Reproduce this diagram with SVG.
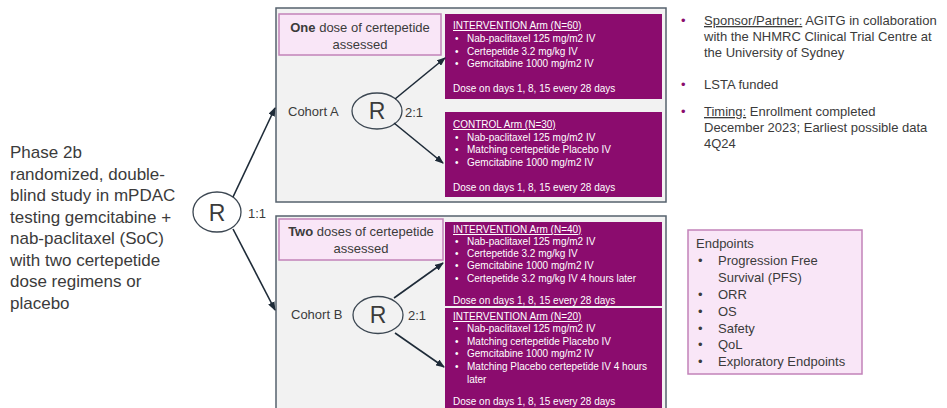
<svg xmlns="http://www.w3.org/2000/svg" width="947" height="408" viewBox="0 0 947 408">
<defs>
<marker id="ah" markerUnits="userSpaceOnUse" markerWidth="9" markerHeight="7" refX="8" refY="3.5" orient="auto">
<path d="M0,0 L9,3.5 L0,7 z" fill="#1e2b38"/>
</marker>
<style>
text{font-family:"Liberation Sans",Arial,sans-serif;fill:#3b3b3b}
.cohort{fill:#f2f2f2;stroke:#56626d;stroke-width:1.5}
.pink{fill:#f9e6f7;stroke:#c283b9;stroke-width:1.5}
.arm{fill:#8b0c6e}
.circ{fill:none;stroke:#3c4752;stroke-width:1.3}
.w{fill:#ffffff;font-size:10px}
.h{text-decoration:underline}
.con{stroke:#1e2b38;stroke-width:1.6;fill:none;marker-end:url(#ah)}
.r{font-size:23px;text-anchor:middle}
.lbl{font-size:13px}
.big{font-size:17px}
.rt{font-size:13px}
.bul{fill:#8b0c6e}
</style>
</defs>
<rect width="947" height="408" fill="#ffffff"/>

<g id="intro">
<text class="big" x="10" y="158">Phase 2b</text>
<text class="big" x="10" y="180">randomized, double-</text>
<text class="big" x="10" y="201">blind study in mPDAC</text>
<text class="big" x="10" y="223">testing gemcitabine +</text>
<text class="big" x="10" y="244">nab-paclitaxel (SoC)</text>
<text class="big" x="10" y="266">with two certepetide</text>
<text class="big" x="10" y="287">dose regimens or</text>
<text class="big" x="10" y="309">placebo</text>
</g>

<g id="rand-main">
<ellipse class="circ" cx="217" cy="212" rx="24" ry="20"/>
<text class="r" x="217" y="221">R</text>
<text class="lbl" x="248" y="218">1:1</text>
</g>

<g id="cohortA">
<rect class="cohort" x="276" y="8" width="390" height="194"/>
<text class="lbl" x="288" y="116">Cohort A</text>
<ellipse class="circ" cx="377" cy="111" rx="25" ry="18"/>
<text class="r" x="377" y="119">R</text>
<text class="lbl" x="405" y="117">2:1</text>
</g>

<g id="labelA">
<rect class="pink" x="279" y="14" width="162" height="41"/>
<text class="lbl" x="360" y="32" text-anchor="middle"><tspan font-weight="bold">One</tspan> dose of certepetide</text>
<text class="lbl" x="360" y="49" text-anchor="middle">assessed</text>
</g>

<g id="armA1">
<rect class="arm" x="445" y="14" width="217" height="85"/>
<text class="w h" x="453" y="29">INTERVENTION Arm (N=60)</text>
<text class="w" x="455" y="42">•</text><text class="w" x="467" y="42">Nab-paclitaxel 125 mg/m2 IV</text>
<text class="w" x="455" y="55">•</text><text class="w" x="467" y="55">Certepetide 3.2 mg/kg IV</text>
<text class="w" x="455" y="67">•</text><text class="w" x="467" y="67">Gemcitabine 1000 mg/m2 IV</text>
<text class="w" x="453" y="92">Dose on days 1, 8, 15 every 28 days</text>
</g>

<g id="armA2">
<rect class="arm" x="445" y="112" width="217" height="85"/>
<text class="w h" x="453" y="128">CONTROL Arm (N=30)</text>
<text class="w" x="455" y="141">•</text><text class="w" x="467" y="141">Nab-paclitaxel 125 mg/m2 IV</text>
<text class="w" x="455" y="153">•</text><text class="w" x="467" y="153">Matching certepetide Placebo IV</text>
<text class="w" x="455" y="166">•</text><text class="w" x="467" y="166">Gemcitabine 1000 mg/m2 IV</text>
<text class="w" x="453" y="191">Dose on days 1, 8, 15 every 28 days</text>
</g>

<g id="cohortB">
<rect class="cohort" x="276" y="216" width="390" height="200"/>
<text class="lbl" x="291" y="319">Cohort B</text>
<ellipse class="circ" cx="378" cy="315" rx="25" ry="18.5"/>
<text class="r" x="378" y="323">R</text>
<text class="lbl" x="408" y="320">2:1</text>
</g>

<g id="labelB">
<rect class="pink" x="279" y="219" width="164" height="41"/>
<text class="lbl" x="361" y="236" text-anchor="middle"><tspan font-weight="bold">Two</tspan> doses of certepetide</text>
<text class="lbl" x="361" y="253" text-anchor="middle">assessed</text>
</g>

<g id="armB1">
<rect class="arm" x="445" y="222" width="217" height="84"/>
<text class="w h" x="453" y="233">INTERVENTION Arm (N=40)</text>
<text class="w" x="455" y="245">•</text><text class="w" x="467" y="245">Nab-paclitaxel 125 mg/m2 IV</text>
<text class="w" x="455" y="257">•</text><text class="w" x="467" y="257">Certepetide 3.2 mg/kg IV</text>
<text class="w" x="455" y="269">•</text><text class="w" x="467" y="269">Gemcitabine 1000 mg/m2 IV</text>
<text class="w" x="455" y="282">•</text><text class="w" x="467" y="282">Certepetide 3.2 mg/kg IV 4 hours later</text>
<text class="w" x="453" y="304">Dose on days 1, 8, 15 every 28 days</text>
</g>

<g id="armB2">
<rect class="arm" x="445" y="308" width="217" height="110"/>
<text class="w h" x="453" y="320">INTERVENTION Arm (N=20)</text>
<text class="w" x="455" y="332">•</text><text class="w" x="467" y="332">Nab-paclitaxel 125 mg/m2 IV</text>
<text class="w" x="455" y="345">•</text><text class="w" x="467" y="345">Matching certepetide Placebo IV</text>
<text class="w" x="455" y="357">•</text><text class="w" x="467" y="357">Gemcitabine 1000 mg/m2 IV</text>
<text class="w" x="455" y="370">•</text><text class="w" x="467" y="370">Matching Placebo certepetide IV 4 hours</text>
<text class="w" x="467" y="383">later</text>
<text class="w" x="453" y="405">Dose on days 1, 8, 15 every 28 days</text>
</g>

<g id="connectors">
<line class="con" x1="233" y1="197" x2="275" y2="108"/>
<line class="con" x1="233" y1="229" x2="275" y2="310"/>
<line class="con" x1="395" y1="99" x2="445" y2="58"/>
<line class="con" x1="394" y1="123" x2="443" y2="163"/>
<line class="con" x1="394" y1="298" x2="443" y2="263"/>
<line class="con" x1="395" y1="333" x2="444" y2="367"/>
</g>

<g id="info">
<text class="rt bul" x="681" y="25">•</text>
<text class="rt" x="704" y="25"><tspan class="h">Sponsor/Partner:</tspan>  AGITG in collaboration</text>
<text class="rt" x="704" y="41">with the NHMRC Clinical Trial Centre at</text>
<text class="rt" x="704" y="57">the University of Sydney</text>
<text class="rt bul" x="681" y="89">•</text>
<text class="rt" x="704" y="89">LSTA funded</text>
<text class="rt bul" x="681" y="116">•</text>
<text class="rt" x="704" y="116"><tspan class="h">Timing:</tspan>  Enrollment completed</text>
<text class="rt" x="704" y="132">December 2023; Earliest possible data</text>
<text class="rt" x="704" y="148">4Q24</text>
</g>

<g id="endpoints">
<rect class="pink" x="688" y="230" width="174" height="144"/>
<text class="rt" x="696" y="248">Endpoints</text>
<text class="rt" x="698" y="265">•</text><text class="rt" x="718" y="265">Progression Free</text>
<text class="rt" x="718" y="282">Survival (PFS)</text>
<text class="rt" x="698" y="299">•</text><text class="rt" x="718" y="299">ORR</text>
<text class="rt" x="698" y="316">•</text><text class="rt" x="718" y="316">OS</text>
<text class="rt" x="698" y="333">•</text><text class="rt" x="718" y="333">Safety</text>
<text class="rt" x="698" y="349">•</text><text class="rt" x="718" y="349">QoL</text>
<text class="rt" x="698" y="366">•</text><text class="rt" x="718" y="366">Exploratory Endpoints</text>
</g>
</svg>
